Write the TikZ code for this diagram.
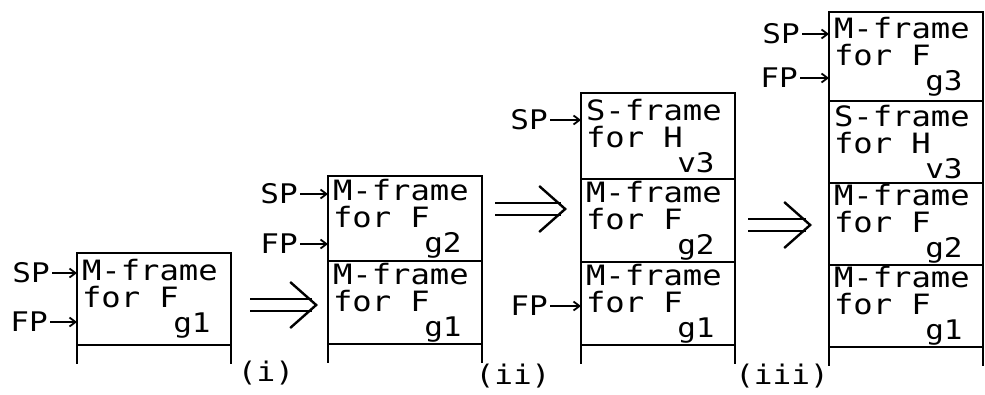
\documentclass[tikz,border=0pt]{standalone}
\usepackage{fontspec}
\setmonofont[FakeStretch=1.15]{DejaVu Sans Mono}
\usetikzlibrary{arrows.meta, positioning}

\newcommand{\lowsub}[1]{\hspace{-0.2em}\raisebox{-0.9em}{\fontsize{27}{27}\selectfont #1}}
\newcommand{\cellsp}{\hspace{0.69em}}

\begin{document}
\begin{tikzpicture}[x=1pt, y=-1pt,
  frame/.style={draw, line width=2pt, outer sep=0pt, minimum height=83pt, text width=144pt,
    inner xsep=5pt, inner ysep=0pt, align=left,
    font=\ttfamily\fontsize{28}{27}\selectfont},
  side/.style={line width=2pt},
  lbl/.style={inner sep=0pt, font=\ttfamily\fontsize{27}{27}\selectfont},
  feed/.style={-{Straight Barb[length=6pt, width=9pt]}, line width=1.8pt, shorten <=2pt},
  rails/.style={double, double distance=10pt, line width=2.4pt},
  chevron/.style={line width=2.4pt, -{Straight Barb[length=26pt, width=46pt]}},
  tag/.style={font=\ttfamily\fontsize{27}{27}\selectfont}
]
  \useasboundingbox (0,0) rectangle (985,394);

  % stack 1
  \node[frame, minimum height=92pt, anchor=south] (s1g1) at (154,345) {M-frame\\for\cellsp F\lowsub{g1}};

  % stack 2
  \node[frame, anchor=south] (s2g1) at (405,344) {M-frame\\for\cellsp F\lowsub{g1}};
  \node[frame, minimum height=85pt, above=0pt of s2g1] (s2g2) {M-frame\\for\cellsp F\lowsub{g2}};

  % stack 3
  \node[frame, anchor=south] (s3g1) at (658,345) {M-frame\\for\cellsp F\lowsub{g1}};
  \node[frame, above=0pt of s3g1] (s3g2) {M-frame\\for\cellsp F\lowsub{g2}};
  \node[frame, minimum height=86pt, above=0pt of s3g2] (s3h3) {S-frame\\for\cellsp H\lowsub{v3}};

  % stack 4
  \node[frame, minimum height=82pt, anchor=south] (s4g1) at (906,347) {M-frame\\for\cellsp F\lowsub{g1}};
  \node[frame, minimum height=82pt, above=0pt of s4g1] (s4g2) {M-frame\\for\cellsp F\lowsub{g2}};
  \node[frame, minimum height=82pt, above=0pt of s4g2] (s4h3) {S-frame\\for\cellsp H\lowsub{v3}};
  \node[frame, minimum height=89pt, above=0pt of s4h3] (s4g3) {M-frame\\for\cellsp F\lowsub{g3}};

  % open space under each stack
  \foreach \s in {s1g1, s2g1, s3g1, s4g1} {
    \draw[side] (\s.south west) -- ++(0,19);
    \draw[side] (\s.south east) -- ++(0,19);
  }

  % SP / FP pointers
  \node[lbl, anchor=east] (sp1) at (50,273) {SP};
  \node[lbl, anchor=east] (fp1) at (48,322) {FP};
  \node[lbl, anchor=east] (sp2) at (298,194) {SP};
  \node[lbl, anchor=east] (fp2) at (298,244) {FP};
  \node[lbl, anchor=east] (sp3) at (548,120) {SP};
  \node[lbl, anchor=east] (fp3) at (548,306) {FP};
  \node[lbl, anchor=east] (sp4) at (800,34) {SP};
  \node[lbl, anchor=east] (fp4) at (798,78) {FP};

  \draw[feed] (sp1.east) -- (sp1.east -| s1g1.west);
  \draw[feed] (fp1.east) -- (fp1.east -| s1g1.west);
  \draw[feed] (sp2.east) -- (sp2.east -| s2g2.west);
  \draw[feed] (fp2.east) -- (fp2.east -| s2g2.west);
  \draw[feed] (sp3.east) -- (sp3.east -| s3h3.west);
  \draw[feed] (fp3.east) -- (fp3.east -| s3g1.west);
  \draw[feed] (sp4.east) -- (sp4.east -| s4g3.west);
  \draw[feed] (fp4.east) -- (fp4.east -| s4g3.west);

  % transitions
  \coordinate (i-from) at (250,305);
  \coordinate (i-to) at (318,305);
  \coordinate (ii-from) at (495,209);
  \coordinate (ii-to) at (567,209);
  \coordinate (iii-from) at (748,225);
  \coordinate (iii-to) at (812,225);
  \foreach \t in {i, ii, iii} {
    \draw[rails] (\t-from) -- ([xshift=-6pt]\t-to);
    \draw[chevron] ([xshift=-2pt]\t-to) -- (\t-to);
  }

  \node[tag] (t1) at (266,373) {(i)};
  \node[tag] (t2) at (513,376) {(ii)};
  \node[tag] (t3) at (782,376) {(iii)};
\end{tikzpicture}
\end{document}
